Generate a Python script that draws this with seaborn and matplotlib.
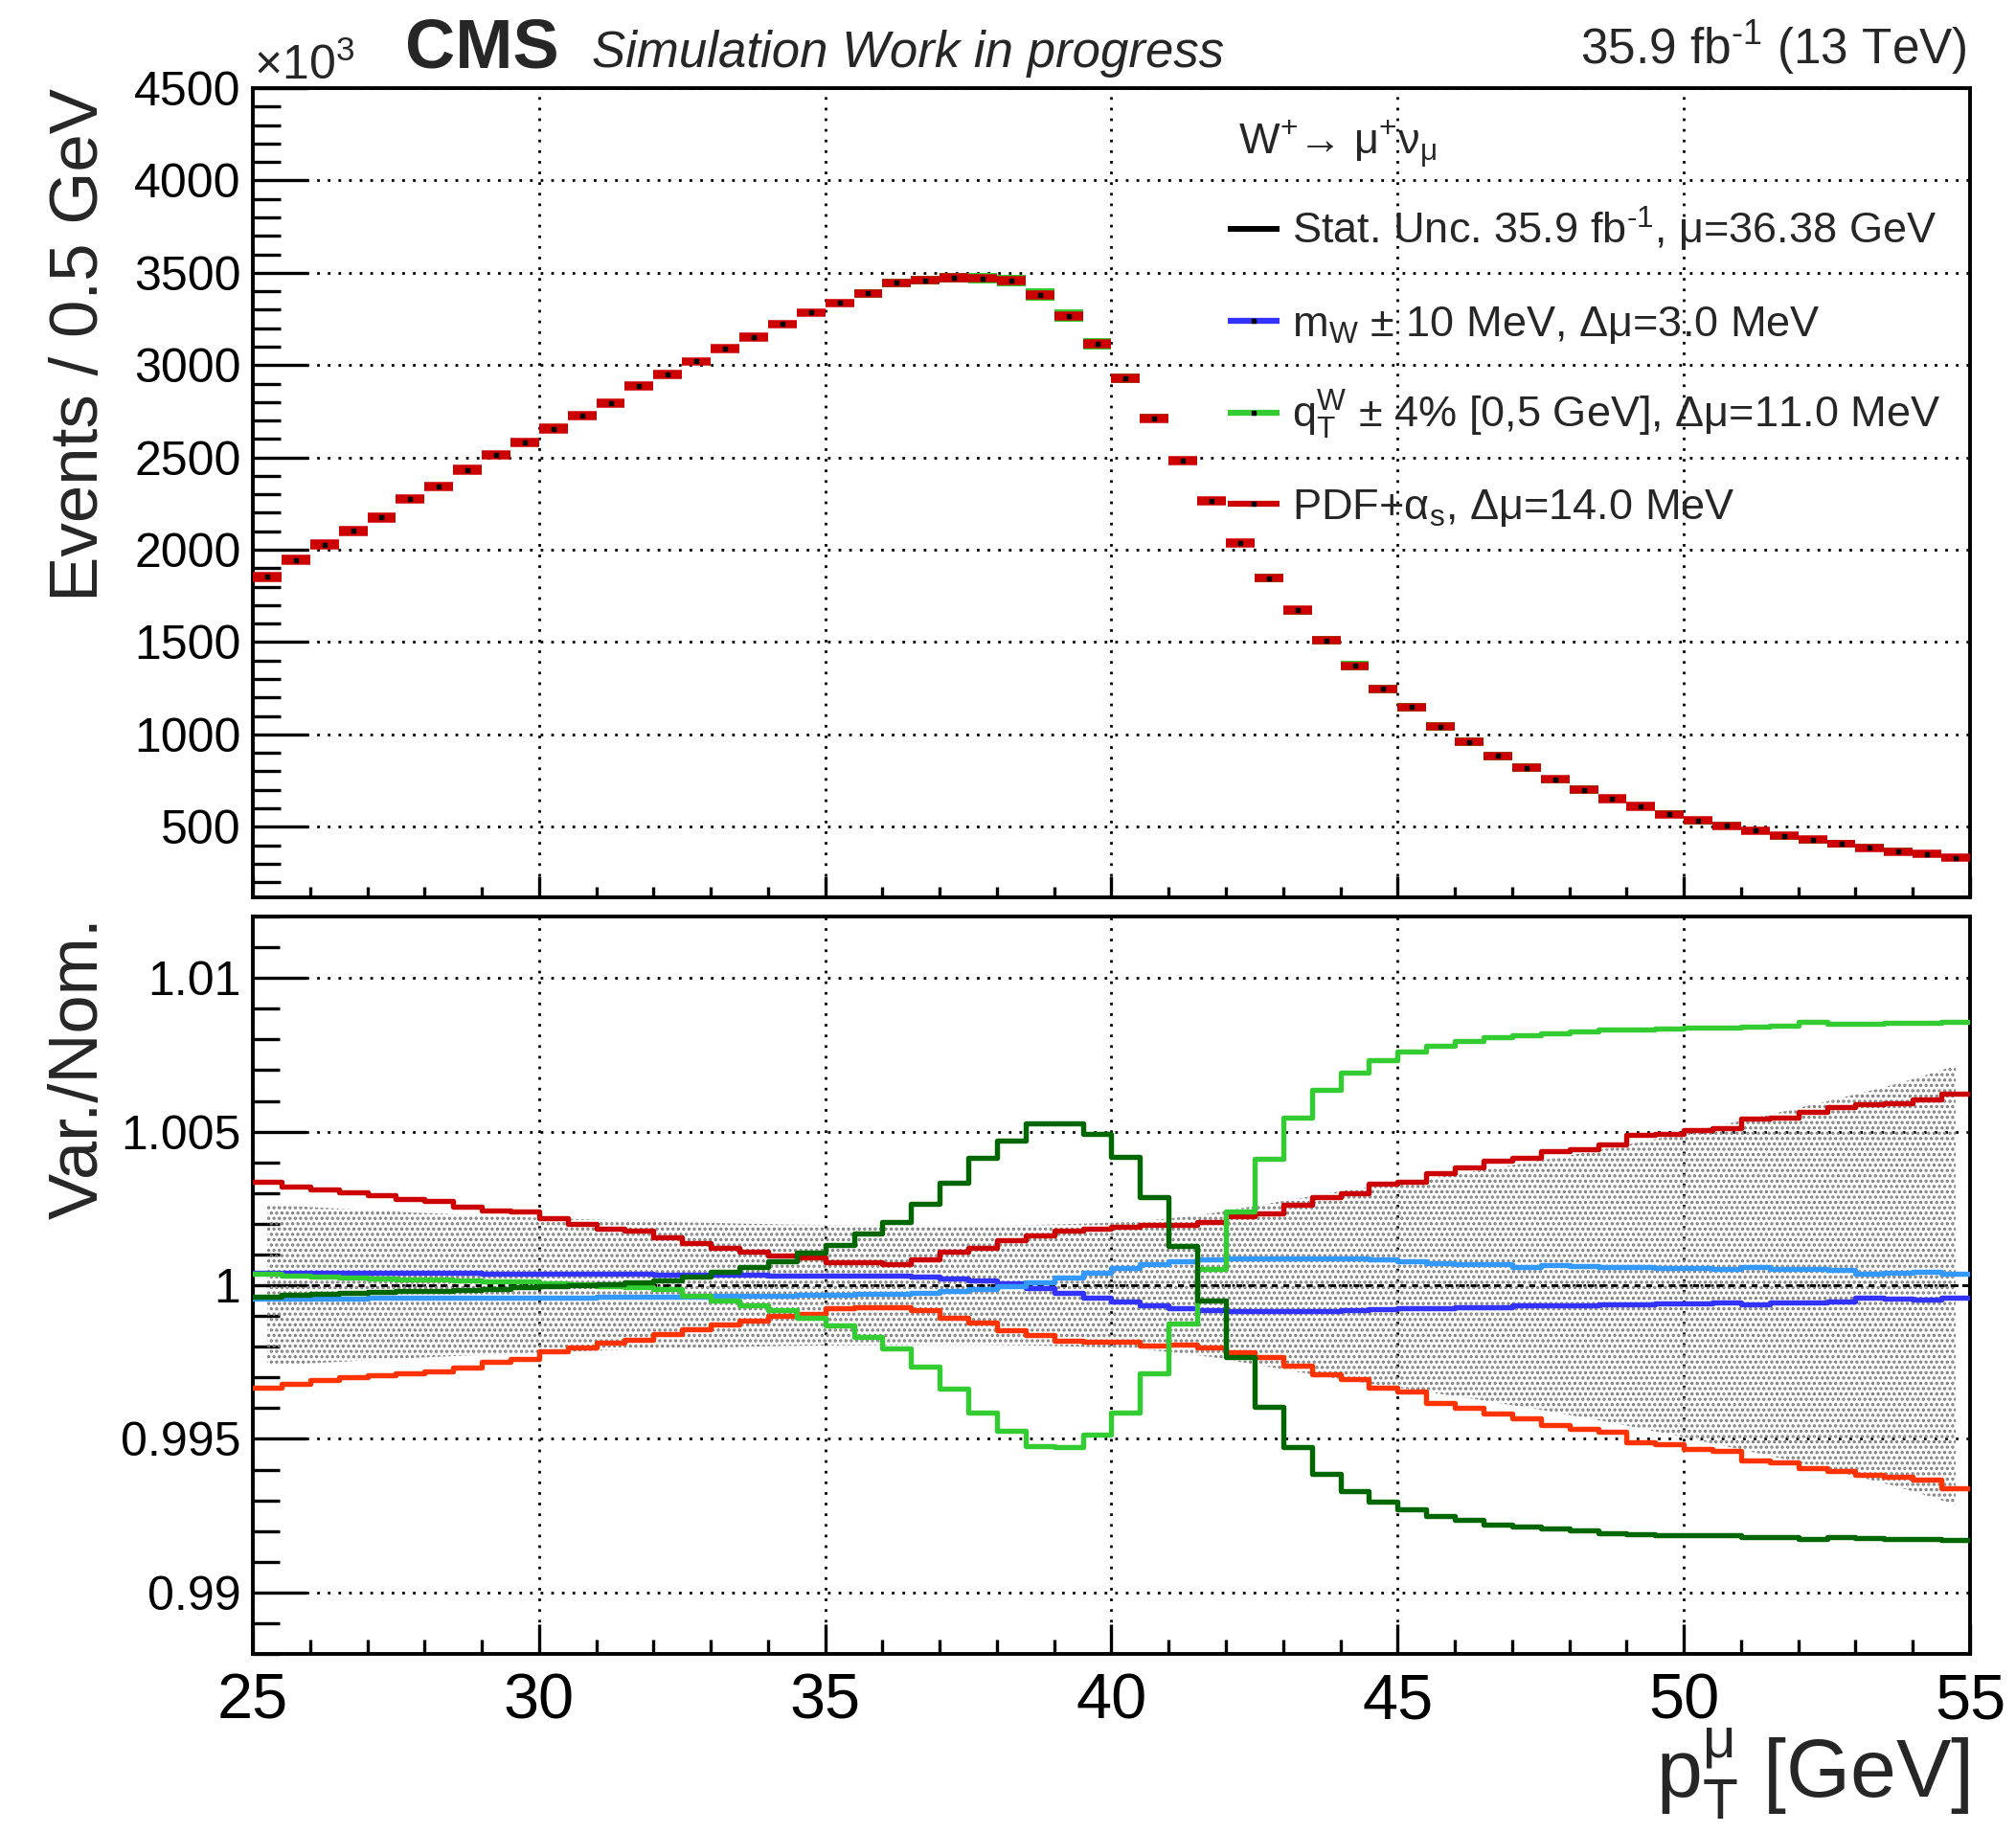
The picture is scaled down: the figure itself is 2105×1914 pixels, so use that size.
"""W+ -> mu+ nu muon pT spectrum with systematic variations (CMS style)."""
import matplotlib
matplotlib.use("Agg")
import matplotlib.pyplot as plt
import numpy as np
import pandas as pd
import seaborn as sns
from matplotlib.ticker import FuncFormatter, MultipleLocator

# 0.5 GeV bins from 25 to 55 GeV
bin_lo = np.arange(25.0, 55.0, 0.5)

# events per bin, in units of 10^3
events_k = [
    1853, 1945, 2028, 2102, 2175, 2275, 2342, 2433, 2515, 2580,
    2656, 2726, 2796, 2885, 2950, 3020, 3090, 3152, 3222, 3285,
    3336, 3388, 3446, 3460, 3474, 3470, 3458, 3381, 3267, 3116,
    2929, 2712, 2482, 2265, 2035, 1847, 1672, 1510, 1371, 1246,
    1148, 1043, 959, 883, 820, 757, 701, 652, 610, 568,
    534, 506, 478, 450, 429, 408, 387, 366, 352, 331,
]

# relative deviations from nominal, in per mille
stat_unc = [
    2.62, 2.57, 2.52, 2.47, 2.42, 2.37, 2.33, 2.29, 2.25, 2.21,
    2.18, 2.15, 2.12, 2.09, 2.06, 2.04, 2.02, 2.00, 1.98, 1.97,
    1.96, 1.95, 1.95, 1.94, 1.94, 1.94, 1.95, 1.97, 1.99, 2.02,
    2.06, 2.13, 2.22, 2.34, 2.50, 2.66, 2.82, 2.98, 3.13, 3.27,
    3.40, 3.54, 3.68, 3.83, 3.98, 4.14, 4.31, 4.48, 4.66, 4.85,
    5.05, 5.25, 5.45, 5.66, 5.88, 6.10, 6.33, 6.57, 6.85, 7.15,
]
pdf_up = [
    3.37, 3.21, 3.13, 3.03, 2.94, 2.81, 2.75, 2.55, 2.42, 2.41,
    2.17, 2.00, 1.83, 1.77, 1.55, 1.37, 1.23, 1.09, 0.98, 0.90,
    0.74, 0.75, 0.70, 0.84, 1.08, 1.22, 1.46, 1.62, 1.79, 1.85,
    1.89, 1.97, 1.96, 2.05, 2.23, 2.35, 2.61, 2.86, 2.99, 3.30,
    3.36, 3.66, 3.82, 4.06, 4.14, 4.36, 4.44, 4.59, 4.89, 4.93,
    5.05, 5.10, 5.41, 5.47, 5.63, 5.81, 5.88, 5.91, 6.06, 6.24,
]
pdf_dn = [
    -3.32, -3.21, -3.09, -3.00, -2.93, -2.86, -2.81, -2.67, -2.49, -2.41,
    -2.15, -2.03, -1.87, -1.77, -1.58, -1.42, -1.27, -1.14, -0.99, -0.93,
    -0.75, -0.72, -0.72, -0.80, -1.07, -1.22, -1.47, -1.63, -1.81, -1.85,
    -1.85, -1.96, -1.92, -2.04, -2.17, -2.34, -2.63, -2.90, -3.04, -3.34,
    -3.46, -3.84, -4.00, -4.17, -4.33, -4.55, -4.69, -4.78, -5.12, -5.18,
    -5.32, -5.38, -5.70, -5.77, -5.96, -6.06, -6.18, -6.23, -6.34, -6.60,
]
qt_up = [
    0.36, 0.31, 0.28, 0.26, 0.22, 0.19, 0.18, 0.16, 0.13, 0.12,
    0.07, 0.03, -0.03, -0.07, -0.12, -0.33, -0.49, -0.64, -0.80, -1.07,
    -1.32, -1.68, -2.07, -2.65, -3.36, -4.14, -4.73, -5.24, -5.27, -4.87,
    -4.14, -2.86, -1.26, 0.54, 2.41, 4.10, 5.47, 6.36, 6.93, 7.31,
    7.59, 7.79, 7.94, 8.06, 8.13, 8.21, 8.27, 8.31, 8.33, 8.36,
    8.38, 8.39, 8.43, 8.45, 8.57, 8.50, 8.52, 8.54, 8.55, 8.56,
]
qt_dn = [
    -0.36, -0.31, -0.28, -0.25, -0.21, -0.20, -0.18, -0.15, -0.11, -0.07,
    -0.04, 0.00, 0.03, 0.09, 0.17, 0.28, 0.43, 0.60, 0.79, 1.05,
    1.30, 1.68, 2.06, 2.65, 3.32, 4.13, 4.72, 5.27, 5.27, 4.91,
    4.19, 2.87, 1.28, -0.51, -2.35, -3.96, -5.27, -6.14, -6.69, -7.05,
    -7.29, -7.50, -7.65, -7.79, -7.84, -7.93, -7.99, -8.07, -8.11, -8.13,
    -8.13, -8.14, -8.19, -8.21, -8.27, -8.21, -8.23, -8.25, -8.26, -8.28,
]
mw_up = [
    0.42, 0.42, 0.41, 0.41, 0.40, 0.40, 0.39, 0.39, 0.38, 0.38,
    0.37, 0.37, 0.36, 0.36, 0.35, 0.35, 0.34, 0.33, 0.32, 0.31,
    0.31, 0.32, 0.31, 0.27, 0.21, 0.15, 0.05, -0.09, -0.25, -0.39,
    -0.54, -0.66, -0.74, -0.80, -0.83, -0.84, -0.84, -0.83, -0.80, -0.78,
    -0.74, -0.74, -0.72, -0.72, -0.66, -0.66, -0.64, -0.63, -0.63, -0.60,
    -0.58, -0.57, -0.63, -0.56, -0.56, -0.52, -0.42, -0.44, -0.48, -0.42,
]
mw_dn = [
    -0.44, -0.44, -0.43, -0.43, -0.42, -0.42, -0.41, -0.41, -0.40, -0.40,
    -0.39, -0.39, -0.38, -0.38, -0.37, -0.36, -0.35, -0.34, -0.33, -0.32,
    -0.31, -0.29, -0.29, -0.25, -0.18, -0.13, -0.03, 0.09, 0.24, 0.39,
    0.56, 0.68, 0.78, 0.84, 0.86, 0.87, 0.87, 0.86, 0.86, 0.84,
    0.78, 0.71, 0.69, 0.68, 0.58, 0.65, 0.62, 0.60, 0.59, 0.57,
    0.56, 0.54, 0.59, 0.52, 0.52, 0.50, 0.38, 0.39, 0.45, 0.38,
]

C_PDF_UP, C_PDF_DN = "#cc0000", "#ff3300"
C_QT_UP, C_QT_DN = "#33cc33", "#006600"
C_MW_UP, C_MW_DN = "#3333ff", "#3399ff"

df = pd.DataFrame({
    "lo": bin_lo,
    "hi": bin_lo + 0.5,
    "centre": bin_lo + 0.25,
    "events": events_k,
    "stat": stat_unc,
    "pdf_up": pdf_up, "pdf_dn": pdf_dn,
    "qt_up": qt_up, "qt_dn": qt_dn,
    "mw_up": mw_up, "mw_dn": mw_dn,
})

sns.set_style("ticks")
plt.rcParams["font.family"] = ["Liberation Sans", "DejaVu Sans"]
plt.rcParams["mathtext.fontset"] = "custom"
plt.rcParams["mathtext.rm"] = "Liberation Sans"
plt.rcParams["mathtext.it"] = "Liberation Sans"
plt.rcParams["mathtext.default"] = "regular"
plt.rcParams["hatch.linewidth"] = 1.6

fig = plt.figure(figsize=(21.05, 19.14), dpi=100)
ax1 = fig.add_axes([0.1254, 0.5104, 0.8518, 0.4415])
ax2 = fig.add_axes([0.1254, 0.0977, 0.8518, 0.4023], sharex=ax1)

grid_kw = dict(color="black", ls=(0, (1, 3)), lw=2.0)


def style_axis(ax, ymaj, ymin_, ylen):
    for sp in ax.spines.values():
        sp.set_visible(True)
        sp.set_linewidth(2.8)
        sp.set_color("black")
    ax.xaxis.set_major_locator(MultipleLocator(5))
    ax.xaxis.set_minor_locator(MultipleLocator(1))
    ax.yaxis.set_major_locator(MultipleLocator(ymaj))
    ax.yaxis.set_minor_locator(MultipleLocator(ymin_))
    ax.tick_params(which="both", direction="in", top=False, right=False, width=2.4, colors="black")
    ax.tick_params(axis="x", which="major", length=16)
    ax.tick_params(axis="x", which="minor", length=8)
    ax.tick_params(axis="y", which="major", length=ylen, labelsize=36, pad=9)
    ax.tick_params(axis="y", which="minor", length=ylen / 2)
    ax.grid(True, which="major", **grid_kw)
    ax.set_axisbelow(True)


# ---------------- upper panel ----------------
def draw_box(ax, lo, hi, colour, thick):
    ax.bar(df["centre"], hi - lo, bottom=lo, width=0.5, color=colour, linewidth=0, zorder=3)
    ax.hlines(lo, df["lo"], df["hi"], color=colour, lw=thick, zorder=3)
    ax.hlines(hi, df["lo"], df["hi"], color=colour, lw=thick, zorder=3)


ev = df["events"]
for up, dn, colour, thick in [("mw_up", "mw_dn", C_MW_UP, 4.3),
                              ("qt_up", "qt_dn", C_QT_UP, 4.3),
                              ("pdf_up", "pdf_dn", C_PDF_UP, 5.4)]:
    lo = ev * (1 + np.minimum(df[up], df[dn]) / 1000)
    hi = ev * (1 + np.maximum(df[up], df[dn]) / 1000)
    draw_box(ax1, lo, hi, colour, thick)

ax1.errorbar(df["centre"], ev, yerr=ev * df["stat"] / 1000, fmt="s", ms=3,
             color="black", elinewidth=1.2, capsize=0, zorder=4)

ax1.set_xlim(25, 55)
ax1.set_ylim(117, 4500)
style_axis(ax1, 500, 100, 42)
ax1.tick_params(axis="x", labelbottom=False)
ax1.set_xlabel("")
ax1.set_ylabel("Events / 0.5 GeV", fontsize=51, loc="top")
ax1.yaxis.set_label_coords(-0.082, 1.0)

# legend, drawn by hand in axes coordinates
tr = ax1.transAxes
ax1.text(0.574, 0.918, r"W$^{+}$→ μ$^{+}$ν$_{μ}$", transform=tr, fontsize=32.5, va="baseline")
legend_rows = [
    (r"Stat. Unc. 35.9 fb$^{‐1}$, μ=36.38 GeV", "black", False),
    (r"m$_{W}$ ± 10 MeV, Δμ=3.0 MeV", C_MW_UP, True),
    (r"q$_{T}^{W}$ ± 4% [0,5 GeV], Δμ=11.0 MeV", C_QT_UP, True),
    (r"PDF+α$_{s}$, Δμ=14.0 MeV", C_PDF_UP, True),
]
for i, (label, colour, dot) in enumerate(legend_rows):
    yh = 0.826 - i * 0.1133
    ax1.plot([0.5678, 0.598], [yh, yh], transform=tr, color=colour,
             lw=4.5 if dot else 4.3, solid_capstyle="butt", clip_on=False)
    if dot:
        ax1.plot([0.583], [yh], transform=tr, marker="s", ms=3, color="black", clip_on=False)
    ax1.text(0.605, yh - 0.019, label, transform=tr, fontsize=32.5, va="baseline")

# ---------------- lower panel ----------------
ax2.fill_between(df["centre"], 1 - df["stat"] / 1000, 1 + df["stat"] / 1000,
                 facecolor="none", edgecolor="#7d7d7d", hatch="...", linewidth=0, zorder=1)
ax2.axhline(1.0, color="black", lw=2.2, ls=(0, (2, 2)), zorder=1.5)

edges = np.append(df["lo"].to_numpy(), 55.0)
for col, colour in [("pdf_up", C_PDF_UP), ("pdf_dn", C_PDF_DN),
                    ("mw_up", C_MW_UP), ("mw_dn", C_MW_DN),
                    ("qt_up", C_QT_UP), ("qt_dn", C_QT_DN)]:
    ratio = 1 + df[col].to_numpy() / 1000
    sns.lineplot(x=edges, y=np.append(ratio, ratio[-1]), drawstyle="steps-post",
                 color=colour, lw=3.9, estimator=None, sort=False, ax=ax2, legend=False, zorder=3)

ax2.set_xlim(25, 55)
ax2.set_ylim(0.988, 1.012)
style_axis(ax2, 0.005, 0.001, 40)
ax2.tick_params(axis="x", which="major", labelsize=48, pad=14, length=22)
ax2.tick_params(axis="x", which="minor", length=11)
ax2.yaxis.set_major_formatter(FuncFormatter(lambda v, _: f"{v:g}"))
ax2.set_ylabel("Var./Nom.", fontsize=52, loc="top")
ax2.yaxis.set_label_coords(-0.082, 1.0)
ax2.set_xlabel(r"p$_{T}^{μ}$ [GeV]", fontsize=62, loc="right")
ax2.xaxis.set_label_coords(1.0, -0.098)

# header texts
fig.text(0.2010, 0.9634, "CMS", fontsize=52, fontweight="bold", va="baseline")
fig.text(0.2934, 0.9634, "Simulation Work in progress", fontsize=38, style="italic", va="baseline")
fig.text(0.9758, 0.965, r"35.9 fb$^{‐1}$ (13 TeV)", fontsize=37, ha="right", va="baseline")
fig.text(0.1259, 0.9566, r"×10$^{3}$", fontsize=36, va="baseline")

fig.savefig("out.png", dpi=100)
